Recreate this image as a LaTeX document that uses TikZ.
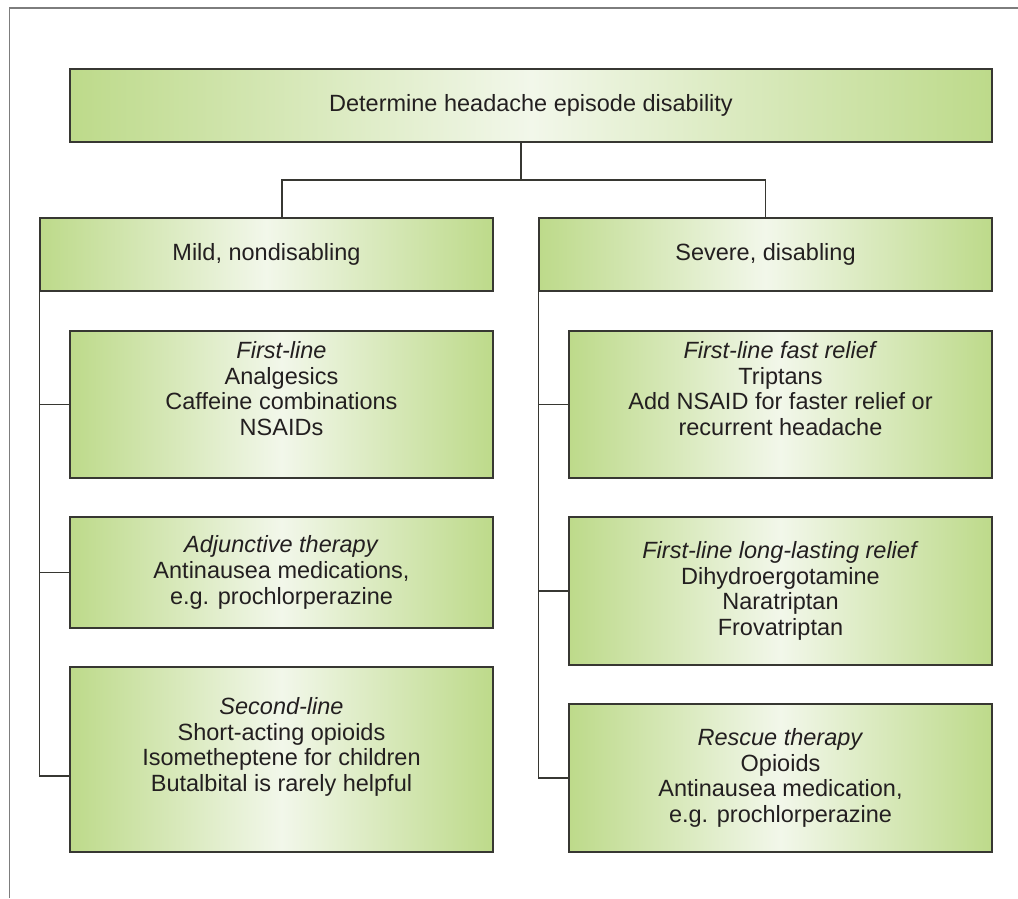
\documentclass[tikz,border=0pt]{standalone}
\usepackage{fontspec}
\setmainfont{Liberation Sans}
\begin{document}
\definecolor{leafgreen}{RGB}{189,218,138}
\definecolor{paleleaf}{RGB}{242,247,234}
\definecolor{boxline}{RGB}{55,55,50}
\definecolor{inktext}{RGB}{35,31,32}
\definecolor{framegray}{RGB}{125,125,125}
\begin{tikzpicture}[x=1pt,y=-1pt,
  gbox/.style={draw=boxline, line width=1.6pt,
    left color=leafgreen, right color=leafgreen, middle color=paleleaf,
    shading angle=90, inner sep=0pt, align=center, text=inktext,
    font=\fontsize{23.5}{25.7}\selectfont},
  gtext/.style={inner sep=0pt, align=center, text=inktext,
    font=\fontsize{23.5}{25.7}\selectfont},
  link/.style={draw=boxline, line width=1.4pt}]
\useasboundingbox (0,0) rectangle (1018,898);
% outer frame (top and left edges only)
\draw[framegray, line width=1.6pt] (9.5,898) -- (9.5,8) -- (1018,8);

% decision at the top and its two branches
\node[gbox, minimum width=922pt, minimum height=73pt] (top) at (531,105.5)
  {Determine headache episode disability};
\node[gbox, minimum width=453pt, minimum height=73pt] (mild) at (266.5,254.5)
  {Mild, nondisabling};
\node[gbox, minimum width=453pt, minimum height=73pt] (severe) at (765.5,254.5)
  {Severe, disabling};

% treatments for mild episodes
\node[gbox, minimum width=423pt, minimum height=147pt] (L1) at (281.5,404.5) {};
\node[gtext, yshift=16pt] (L1t) at (L1)
  {\textit{First-line}\\Analgesics\\Caffeine combinations\\NSAIDs};
\node[gbox, minimum width=423pt, minimum height=111pt] (L2) at (281.5,572.5)
  {\textit{Adjunctive therapy}\\Antinausea medications,\\e.g. prochlorperazine};
\node[gbox, minimum width=423pt, minimum height=185pt] (L3) at (281.5,759.5) {};
\node[gtext, yshift=12.5pt] (L3t) at (L3)
  {\textit{Second-line}\\Short-acting opioids\\Isometheptene for children\\Butalbital is rarely helpful};

% treatments for severe episodes
\node[gbox, minimum width=423pt, minimum height=147pt] (R1) at (780.5,404.5) {};
\node[gtext, yshift=16pt] (R1t) at (R1)
  {\textit{First-line fast relief}\\Triptans\\Add NSAID for faster relief or\\recurrent headache};
\node[gbox, minimum width=423pt, minimum height=148pt] (R2) at (780.5,591)
  {\textit{First-line long-lasting relief}\\Dihydroergotamine\\Naratriptan\\Frovatriptan};
\node[gbox, minimum width=423pt, minimum height=148pt] (R3) at (780.5,778)
  {\textit{Rescue therapy}\\Opioids\\Antinausea medication,\\e.g. prochlorperazine};

% branching connectors
\coordinate (split) at (521,180);
\coordinate (ldrop) at (282,180);
\draw[link] (top.south -| split) -- (split);
\draw[link] (ldrop |- mild.north) -- (ldrop) -- (split -| severe.north) -- (severe.north);

% trunks from each branch to its treatment boxes
\coordinate (L3in) at (70,776);
\draw[link] (mild.south west) |- (L3in);
\draw[link] (mild.south west |- L1.west) -- (L1.west);
\draw[link] (mild.south west |- L2.west) -- (L2.west);
\draw[link] (severe.south west) |- (R3.west);
\draw[link] (severe.south west |- R1.west) -- (R1.west);
\draw[link] (severe.south west |- R2.west) -- (R2.west);
\end{tikzpicture}
\end{document}
